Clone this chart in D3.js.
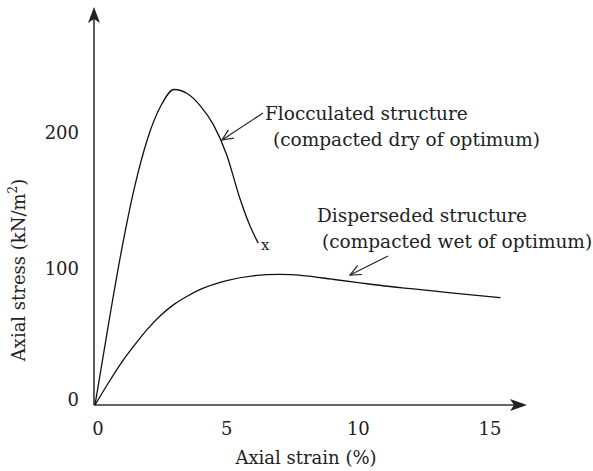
<!DOCTYPE html>
<html>
<head>
<meta charset="utf-8">
<script src="https://cdn.jsdelivr.net/npm/d3@7"></script>
<style>
  html, body { margin: 0; padding: 0; background: #fff; }
  svg { display: block; }
  text { font-family: "DejaVu Serif", "Liberation Serif", serif; fill: #222; }
</style>
</head>
<body>
<svg id="chart" width="593" height="471"></svg>
<script>
// Stress–strain curves of compacted clay
const flocculatedStrain = [0, 0.5, 1.0, 1.5, 2.0, 2.5, 3.0, 3.5, 4.0, 4.5, 5.0, 5.5, 5.9, 6.2];
const flocculatedStress = [0, 58, 113, 160, 196, 220, 232, 229, 220, 206, 184, 152, 131, 119];

const dispersedStrain = [0, 0.5, 1.0, 1.5, 2.0, 2.5, 3.0, 3.5, 4.0, 5.0, 6.0, 7.0, 8.0, 9.0, 10.0, 11.0, 12.0, 13.0, 14.0, 15.4];
const dispersedStress = [0, 16, 31, 44, 56, 66, 74, 80, 85, 91.5, 95, 96, 95, 92.5, 90, 87.5, 85.5, 83.5, 81.5, 79];

const xTicks = [0, 5, 10, 15];
const yTicks = [0, 100, 200];

const failurePoint = { strain: 6.46, stress: 118 };

const svg = d3.select("#chart");
const x = d3.scaleLinear().domain([0, 15]).range([95, 490]);
const y = d3.scaleLinear().domain([0, 200]).range([405, 133]);

const ox = 94, oy = 405;
const axisColor = "#333";
const fs = 18;

// axes with arrowheads
svg.append("line").attr("x1", ox).attr("y1", oy).attr("x2", ox).attr("y2", 14)
  .attr("stroke", axisColor).attr("stroke-width", 1.6);
svg.append("path").attr("d", `M${ox},7 L${ox - 6},23 L${ox},19 L${ox + 6},23 Z`).attr("fill", "#222");

svg.append("line").attr("x1", ox).attr("y1", oy).attr("x2", 520).attr("y2", oy)
  .attr("stroke", axisColor).attr("stroke-width", 1.6);
svg.append("path").attr("d", `M527,${oy} L510,${oy - 6} L514,${oy} L510,${oy + 6} Z`).attr("fill", "#222");

// tick labels
svg.selectAll(".xt").data(xTicks).join("text")
  .attr("x", d => x(d) + (d === 0 ? 3 : 0)).attr("y", 435)
  .attr("text-anchor", "middle").attr("font-size", fs).text(d => d);

svg.selectAll(".yt").data(yTicks).join("text")
  .attr("x", 79).attr("y", d => y(d) + 6 - (d === 0 ? 5 : 0))
  .attr("text-anchor", "end").attr("font-size", fs).text(d => d);

// axis titles
svg.append("text").attr("x", 306).attr("y", 464).attr("text-anchor", "middle")
  .attr("font-size", fs).text("Axial strain (%)");

const yt = svg.append("text").attr("transform", "translate(25,270) rotate(-90)")
  .attr("text-anchor", "middle").attr("font-size", fs);
yt.append("tspan").text("Axial stress (kN/m");
yt.append("tspan").attr("font-size", 12).attr("dy", -8).text("2");
yt.append("tspan").attr("dy", 8).text(")");

// curves
const line = d3.line().x(d => x(d[0])).y(d => y(d[1])).curve(d3.curveMonotoneX);
const floc = flocculatedStrain.map((s, i) => [s, flocculatedStress[i]]);
const disp = dispersedStrain.map((s, i) => [s, dispersedStress[i]]);

svg.append("path").attr("d", line(floc)).attr("fill", "none").attr("stroke", "#111").attr("stroke-width", 1.3);
svg.append("path").attr("d", line(disp)).attr("fill", "none").attr("stroke", "#111").attr("stroke-width", 1.3);

svg.append("text").attr("x", x(failurePoint.strain)).attr("y", y(failurePoint.stress) + 5)
  .attr("text-anchor", "middle").attr("font-size", 15).text("x");

// annotation arrows (open heads)
function arrow(x1, y1, x2, y2) {
  const a = Math.atan2(y1 - y2, x1 - x2), L = 12, w = 0.42;
  svg.append("line").attr("x1", x1).attr("y1", y1).attr("x2", x2).attr("y2", y2)
    .attr("stroke", "#222").attr("stroke-width", 1.2);
  svg.append("path")
    .attr("d", `M${x2 + L * Math.cos(a + w)},${y2 + L * Math.sin(a + w)} L${x2},${y2} L${x2 + L * Math.cos(a - w)},${y2 + L * Math.sin(a - w)}`)
    .attr("fill", "none").attr("stroke", "#222").attr("stroke-width", 1.2);
}
arrow(263, 113, 222, 140);
arrow(388, 256, 350, 275);

// annotation text
const notes = [
  { x: 265, y: 120, t: "Flocculated structure" },
  { x: 273, y: 146, t: "(compacted dry of optimum)" },
  { x: 317, y: 222, t: "Disperseded structure" },
  { x: 322, y: 248, t: "(compacted wet of optimum)" }
];
svg.selectAll(".note").data(notes).join("text")
  .attr("x", d => d.x).attr("y", d => d.y).attr("font-size", 18.5).text(d => d.t);
</script>
</body>
</html>
